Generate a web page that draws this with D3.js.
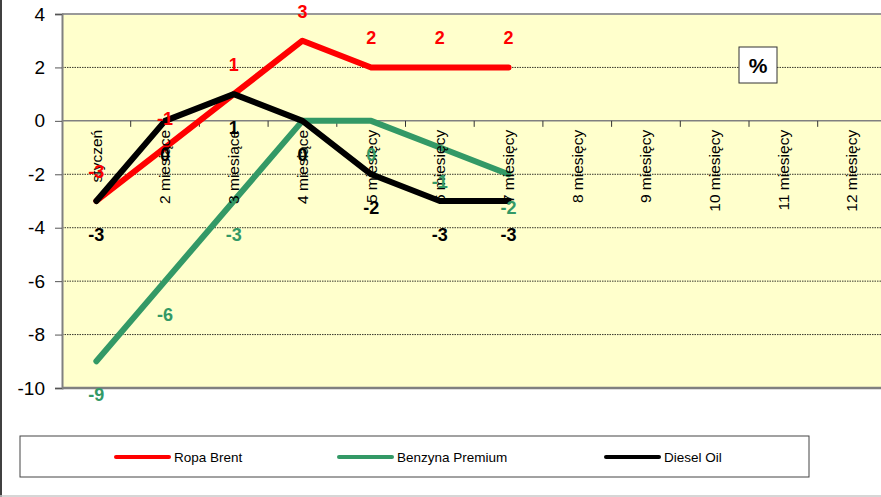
<!DOCTYPE html>
<html>
<head>
<meta charset="utf-8">
<script src="https://cdn.jsdelivr.net/npm/d3@7"></script>
<style>
  body { margin: 0; background: #fff; }
  svg { display: block; font-family: "Liberation Sans", Arial, sans-serif; }
</style>
</head>
<body>
<svg id="chart" width="881" height="497"></svg>
<script>
const categories = ['styczeń', '2 miesiące', '3 miesiące', '4 miesiące', '5 miesięcy', '6 miesięcy',
  '7 miesięcy', '8 miesięcy', '9 miesięcy', '10 miesięcy', '11 miesięcy', '12 miesięcy']
const ropaBrent = [-3, -1, 1, 3, 2, 2, 2]
const benzynaPremium = [-9, -6, -3, 0, 0, -1, -2]
const dieselOil = [-3, 0, 1, 0, -2, -3, -3]
const yTicks = [-10, -8, -6, -4, -2, 0, 2, 4]

const series = [
  { name: 'Ropa Brent', values: ropaBrent, color: '#ff0000', labelPos: 'above' },
  { name: 'Benzyna Premium', values: benzynaPremium, color: '#339966', labelPos: 'below' },
  { name: 'Diesel Oil', values: dieselOil, color: '#000000', labelPos: 'below' }
]

const svg = d3.select('#chart')
const plotLeft = 62
const plotTop = 14
const plotBottom = 388

const x = d3.scaleBand().domain(categories).range([plotLeft, plotLeft + 12 * 68.7]).padding(0)
const y = d3.scaleLinear().domain([-10, 4]).range([plotBottom, plotTop])

// outer frame bits
svg.append('line').attr('x1', 1).attr('x2', 1).attr('y1', 0).attr('y2', 497)
  .attr('stroke', '#000').attr('stroke-width', 1.5)
svg.append('line').attr('x1', 0).attr('x2', 881).attr('y1', 496).attr('y2', 496)
  .attr('stroke', '#c8c8c8').attr('stroke-width', 1.5)

// plot background
svg.append('rect')
  .attr('x', plotLeft).attr('y', plotTop)
  .attr('width', 881 - plotLeft).attr('height', plotBottom - plotTop)
  .attr('fill', '#ffffcc')

// gridlines
svg.append('g').selectAll('line')
  .data(yTicks.filter(d => d !== 0 && d !== -10 && d !== 4))
  .join('line')
  .attr('x1', plotLeft).attr('x2', 881)
  .attr('y1', d => y(d)).attr('y2', d => y(d))
  .attr('stroke', '#000').attr('stroke-width', 0.8)
  .attr('stroke-dasharray', '1.5,1')

// top border and zero line
svg.append('line').attr('x1', plotLeft).attr('x2', 881).attr('y1', y(4)).attr('y2', y(4))
  .attr('stroke', '#999').attr('stroke-width', 2)
svg.append('line').attr('x1', plotLeft).attr('x2', 881).attr('y1', y(0)).attr('y2', y(0))
  .attr('stroke', '#808080').attr('stroke-width', 1.5)

// y axis
const yAxis = svg.append('g')
  .attr('transform', 'translate(' + plotLeft + ',0)')
  .call(d3.axisLeft(y).tickValues(yTicks).tickSize(7).tickPadding(10).tickFormat(d3.format('d')))
yAxis.select('.domain').attr('stroke', '#808080').attr('stroke-width', 2)
yAxis.selectAll('.tick line').attr('stroke', '#555')
yAxis.selectAll('.tick text').attr('font-size', 19).attr('fill', '#000')
  .attr('font-family', '"Liberation Sans", Arial, sans-serif').text(d => d < 0 ? '-' + Math.abs(d) : d)

// bottom border
svg.append('line').attr('x1', plotLeft).attr('x2', 881).attr('y1', y(-10)).attr('y2', y(-10))
  .attr('stroke', '#808080').attr('stroke-width', 2.5)

// x axis ticks on the zero line
svg.append('g').selectAll('line')
  .data(categories.slice(1))
  .join('line')
  .attr('x1', d => x(d)).attr('x2', d => x(d))
  .attr('y1', y(0)).attr('y2', y(0) + 6)
  .attr('stroke', '#333').attr('stroke-width', 1)

// series lines
const line = d3.line()
  .x((d, i) => x(categories[i]) + x.bandwidth() / 2)
  .y(d => y(d))

svg.append('g').selectAll('path')
  .data(series)
  .join('path')
  .attr('d', d => line(d.values))
  .attr('fill', 'none')
  .attr('stroke', d => d.color)
  .attr('stroke-width', 6)
  .attr('stroke-linejoin', 'round')
  .attr('stroke-linecap', 'round')

// category labels
svg.append('g').selectAll('text')
  .data(categories)
  .join('text')
  .attr('transform', d => 'translate(' + (x(d) + x.bandwidth() / 2) + ',' + (y(0) + 9) + ') rotate(-90)')
  .attr('text-anchor', 'end')
  .attr('dy', '0.35em')
  .attr('font-size', 15.5)
  .attr('fill', '#000')
  .text(d => d)

// data labels
series.forEach(s => {
  svg.append('g').selectAll('text')
    .data(s.values)
    .join('text')
    .attr('x', (d, i) => x(categories[i]) + x.bandwidth() / 2)
    .attr('y', d => s.labelPos === 'above' ? y(d) - 23 : y(d) + 40)
    .attr('text-anchor', 'middle')
    .attr('font-size', 18)
    .attr('font-weight', 'bold')
    .attr('fill', s.color)
    .text(d => d < 0 ? '-' + Math.abs(d) : d)
})

// % box
svg.append('rect').attr('x', 739).attr('y', 47).attr('width', 38).attr('height', 36)
  .attr('fill', '#fff').attr('stroke', '#333').attr('stroke-width', 1)
svg.append('text').attr('x', 758).attr('y', 73).attr('text-anchor', 'middle')
  .attr('font-size', 21).attr('font-weight', 'bold').text('%')

// legend
const legend = svg.append('g')
legend.append('rect').attr('x', 20).attr('y', 436).attr('width', 789).attr('height', 41)
  .attr('fill', '#fff').attr('stroke', '#444').attr('stroke-width', 1)
const legendX = [116, 339, 606]
const item = legend.selectAll('g.item')
  .data(series)
  .join('g')
  .attr('class', 'item')
  .attr('transform', (d, i) => 'translate(' + legendX[i] + ',457)')
item.append('line').attr('x1', 0).attr('x2', 53).attr('y1', 0).attr('y2', 0)
  .attr('stroke', d => d.color).attr('stroke-width', 4).attr('stroke-linecap', 'round')
item.append('text').attr('x', 58).attr('dy', '0.35em').attr('font-size', 13.5)
  .text(d => d.name)
</script>
</body>
</html>
